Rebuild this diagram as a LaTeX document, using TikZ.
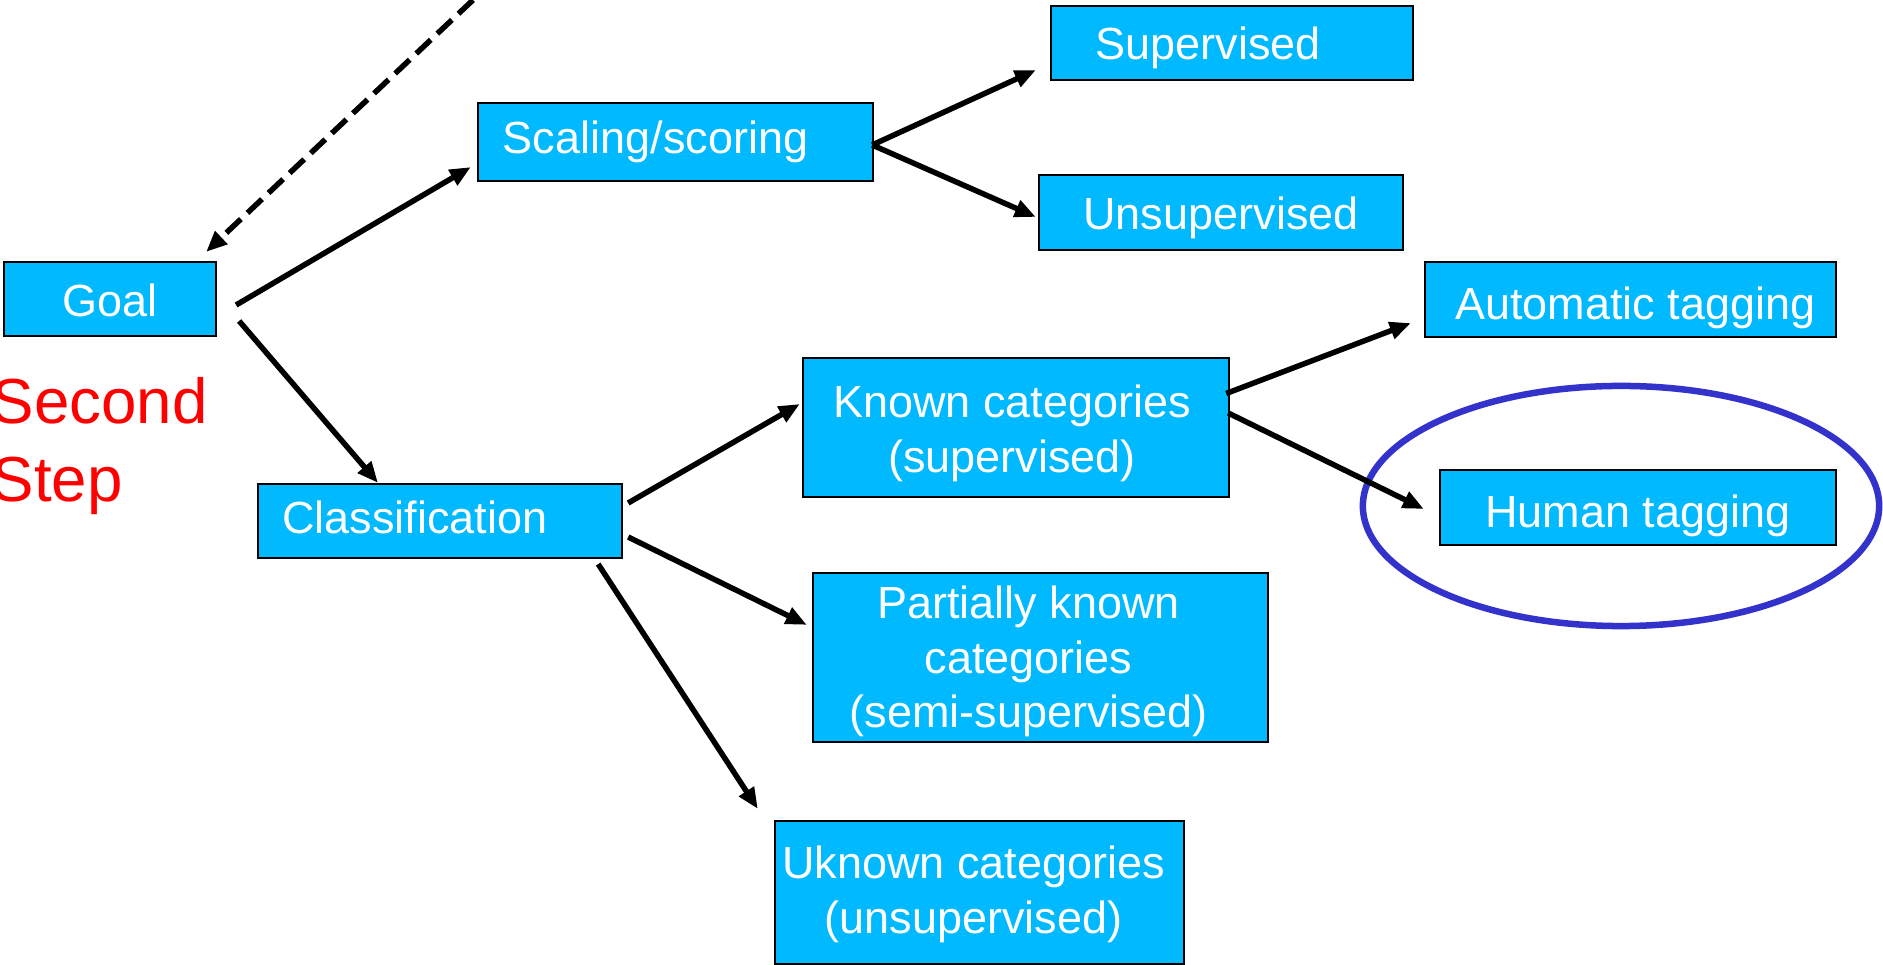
\documentclass[tikz,border=0pt]{standalone}
\usepackage{fontspec}
\setmainfont{Liberation Sans}
\usetikzlibrary{arrows.meta}
\definecolor{boxblue}{RGB}{0,185,255}
\definecolor{ringblue}{RGB}{51,51,204}

\begin{document}
\begin{tikzpicture}[x=0.01cm,y=-0.01cm,
		box/.style={draw=black,line width=0.6pt,fill=boxblue,inner sep=0pt},
		boxtext/.style={text=white,inner sep=0pt,align=center,font=\fontsize{12.8}{15.6}\selectfont},
		link/.style={line width=0.055cm,-{Triangle[length=0.21cm,width=0.17cm]}},
		backlink/.style={link,dash pattern=on 0.2cm off 0.09cm}]
	\useasboundingbox (0,0) rectangle (1883,965);
	\node[box,minimum width=2.12cm,minimum height=0.74cm,label={[boxtext,shift={(0,1)}]center:Goal}] (goal) at (110,299) {};
	\node[box,minimum width=3.95cm,minimum height=0.78cm,label={[boxtext,shift={(-20,0)}]center:Scaling/scoring}] (scaling) at (675.5,142) {};
	\node[box,minimum width=3.62cm,minimum height=0.74cm,label={[boxtext,shift={(-24,5)}]center:Supervised}] (supervised) at (1232,43) {};
	\node[box,minimum width=3.64cm,minimum height=0.75cm,label={[boxtext,shift={(0,5)}]center:Unsupervised}] (unsupervised) at (1221,212.5) {};
	\node[box,minimum width=3.64cm,minimum height=0.74cm,label={[boxtext,shift={(-25,-4)}]center:Classification}] (classification) at (440,521) {};
	\node[box,minimum width=4.26cm,minimum height=1.39cm,label={[boxtext,shift={(-4,6)}]center:Known categories\\(supervised)}] (known) at (1016,427.5) {};
	\node[box,minimum width=4.55cm,minimum height=1.69cm,label={[boxtext,shift={(-12,4)}]center:Partially known\\categories\\(semi-supervised)}] (partial) at (1040.5,657.5) {};
	\node[box,minimum width=4.09cm,minimum height=1.43cm,label={[boxtext,shift={(-6,2)}]center:Uknown categories\\(unsupervised)}] (uknown) at (979.5,892.5) {};
	\node[box,minimum width=4.11cm,minimum height=0.75cm,label={[boxtext,shift={(5,8)}]center:Automatic tagging}] (automatic) at (1630.5,299.5) {};
	\node[box,minimum width=3.96cm,minimum height=0.75cm,label={[boxtext,shift={(0,8)}]center:Human tagging}] (human) at (1638,507.5) {};
	\node[text=red,align=left,inner sep=0pt,anchor=north west,font=\fontsize{18.1}{22.2}\selectfont] (step) at (-9,377) {Second\\Step};
	\draw[ringblue,line width=0.065cm] (1621,506) ellipse [x radius=2.58cm,y radius=1.2cm];
	\coordinate (before) at (473,0);
	\draw[backlink] (before) -- ([shift={(-11,-9)}]goal.north east);
	\draw[link] ([shift={(19,6)}]goal.east) -- ([shift={(-6,-15)}]scaling.south west);
	\draw[link] ([shift={(22,22)}]goal.east) -- ([shift={(-62,0)}]classification.north);
	\draw[link] ([shift={(-2,3)}]scaling.east) -- ([shift={(-14,-11)}]supervised.south west);
	\draw[link] ([shift={(-2,3)}]scaling.east) -- ([shift={(-2,4.5)}]unsupervised.west);
	\draw[link] ([shift={(5,-18)}]classification.east) -- ([shift={(-2,-23.5)}]known.west);
	\draw[link] ([shift={(5,16)}]classification.east) -- ([shift={(-5,53)}]partial.north west);
	\draw[link] ([shift={(-25,5)}]classification.south east) -- ([shift={(-16,-11)}]uknown.north west);
	\draw[link] ([shift={(-4,-34)}]known.east) -- ([shift={(-13,-15)}]automatic.south west);
	\draw[link] ([shift={(-2,-14.5)}]known.east) -- ([shift={(-15,1.5)}]human.west);
\end{tikzpicture}
\end{document}
